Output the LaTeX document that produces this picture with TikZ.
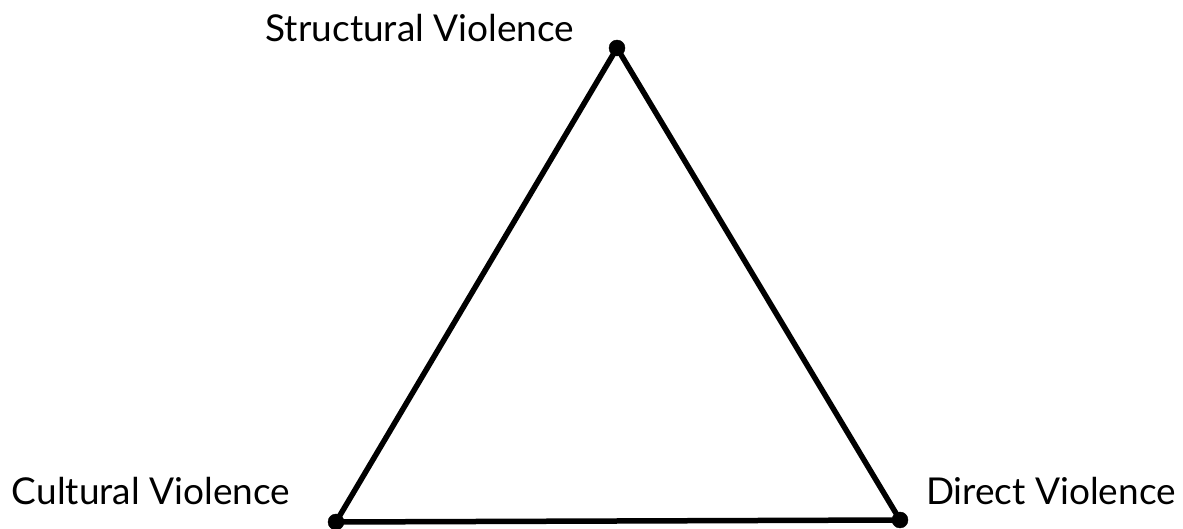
\documentclass[tikz,border=0pt]{standalone}
\usepackage{fontspec}
\setmainfont{Lato}
\usepackage{tikz}

\begin{document}
\begin{tikzpicture}[
  x=1pt, y=1pt,
  font=\fontsize{37}{42}\selectfont,
  v/.style={draw, circle, fill=black, inner sep=0pt, minimum size=16pt},
  lab/.style={anchor=base, inner sep=0pt},
  side/.style={line width=5.5pt}
]
  \useasboundingbox (0,0) rectangle (1183,529);
  \node[v] (sv) at (617,481) {};
  \node[v] (cv) at (336,7) {};
  \node[v] (dv) at (900,9) {};
  \draw[side] (sv.center) -- (cv.center) -- (dv.center) -- cycle;
  \node[lab] (svl) at (420,487) {Structural Violence};
  \node[lab] (cvl) at (151,24) {Cultural Violence};
  \node[lab] (dvl) at (1051,24) {Direct Violence};
\end{tikzpicture}
\end{document}
